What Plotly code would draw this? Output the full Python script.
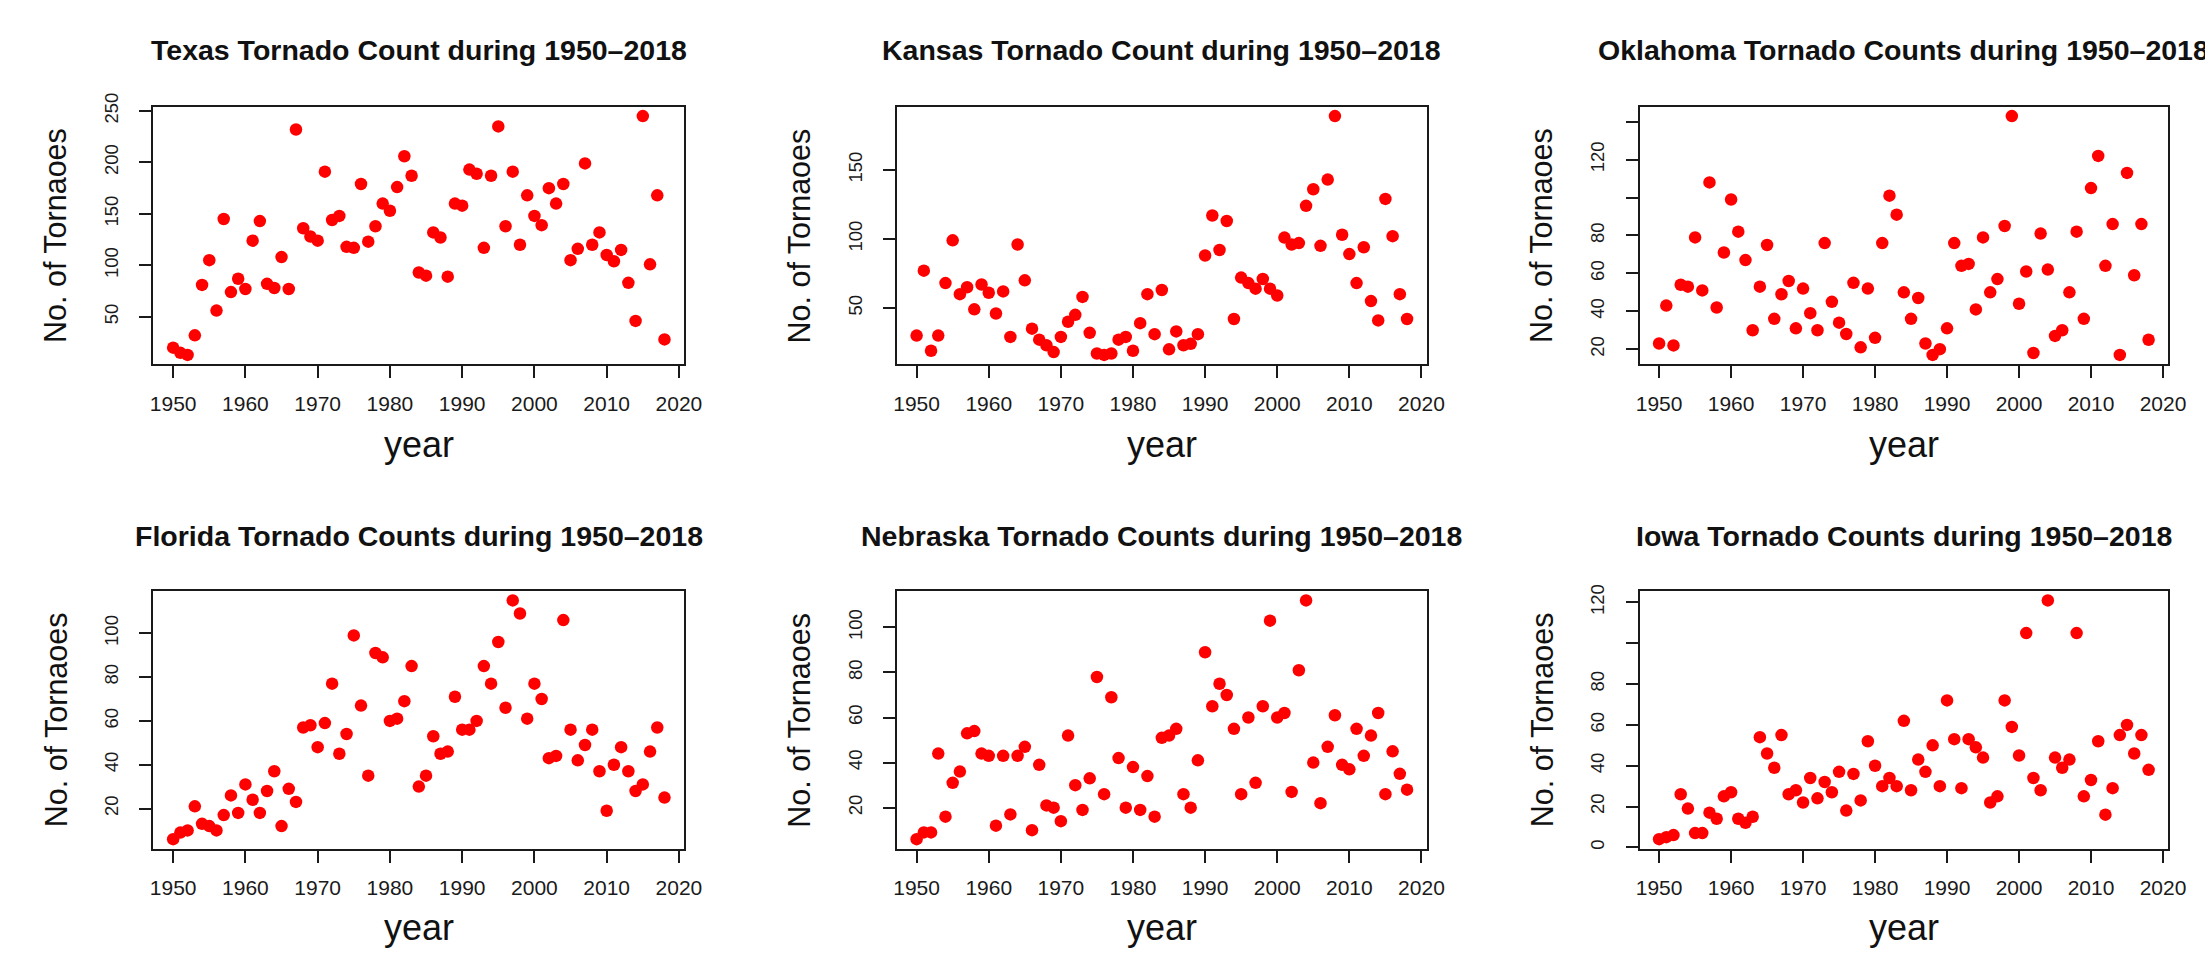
import plotly.graph_objects as go

years = list(range(1950, 2019))

texas = [20, 15, 13, 32, 81, 105, 56, 145, 74, 87, 77, 124, 143, 82, 78, 108, 77, 232, 136, 128,
         124, 191, 144, 148, 118, 117, 179, 123, 138, 160, 153, 176, 206, 187, 93, 90, 132, 127, 89, 160,
         158, 193, 189, 117, 187, 235, 138, 191, 120, 168, 148, 139, 175, 160, 179, 105, 116, 199, 120, 132,
         110, 104, 115, 83, 46, 245, 101, 168, 28]
kansas = [30, 77, 19, 30, 68, 99, 60, 65, 49, 67, 61, 46, 62, 29, 96, 70, 35, 27, 23, 18,
          29, 40, 45, 58, 32, 17, 16, 17, 27, 29, 19, 39, 60, 31, 63, 20, 33, 23, 24, 31,
          88, 117, 92, 113, 42, 72, 68, 64, 71, 64, 59, 101, 96, 97, 124, 136, 95, 143, 189, 103,
          89, 68, 94, 55, 41, 129, 102, 60, 42]
oklahoma = [23, 43, 22, 54, 53, 79, 51, 108, 42, 71, 99, 82, 67, 30, 53, 75, 36, 49, 56, 31,
            52, 39, 30, 76, 45, 34, 28, 55, 21, 52, 26, 76, 101, 91, 50, 36, 47, 23, 17, 20,
            31, 76, 64, 65, 41, 79, 50, 57, 85, 143, 44, 61, 18, 81, 62, 27, 30, 50, 82, 36,
            105, 122, 64, 86, 17, 113, 59, 86, 25]
florida = [6, 9, 10, 21, 13, 12, 10, 17, 26, 18, 31, 24, 18, 28, 37, 12, 29, 23, 57, 58,
           48, 59, 77, 45, 54, 99, 67, 35, 91, 89, 60, 61, 69, 85, 30, 35, 53, 45, 46, 71,
           56, 56, 60, 85, 77, 96, 66, 115, 109, 61, 77, 70, 43, 44, 106, 56, 42, 49, 56, 37,
           19, 40, 48, 37, 28, 31, 46, 57, 25]
nebraska = [6, 9, 9, 44, 16, 31, 36, 53, 54, 44, 43, 12, 43, 17, 43, 47, 10, 39, 21, 20,
            14, 52, 30, 19, 33, 78, 26, 69, 42, 20, 38, 19, 34, 16, 51, 52, 55, 26, 20, 41,
            89, 65, 75, 70, 55, 26, 60, 31, 65, 103, 60, 62, 27, 81, 112, 40, 22, 47, 61, 39,
            37, 55, 43, 52, 62, 26, 45, 35, 28]
iowa = [4, 5, 6, 26, 19, 7, 7, 17, 14, 25, 27, 14, 12, 15, 54, 46, 39, 55, 26, 28,
        22, 34, 24, 32, 27, 37, 18, 36, 23, 52, 40, 30, 34, 30, 62, 28, 43, 37, 50, 30,
        72, 53, 29, 53, 49, 44, 22, 25, 72, 59, 45, 105, 34, 28, 121, 44, 39, 43, 105, 25,
        33, 52, 16, 29, 55, 60, 46, 55, 38]

titles = ["Texas Tornado Count during 1950\u20132018",
          "Kansas Tornado Count during 1950\u20132018",
          "Oklahoma Tornado Counts during 1950\u20132018",
          "Florida Tornado Counts during 1950\u20132018",
          "Nebraska Tornado Counts during 1950\u20132018",
          "Iowa Tornado Counts during 1950\u20132018"]

x_ticks = [1950, 1960, 1970, 1980, 1990, 2000, 2010, 2020]
y_tickvals = [
    [50, 100, 150, 200, 250],
    [50, 100, 150],
    [20, 40, 60, 80, 100, 120, 140],
    [20, 40, 60, 80, 100],
    [20, 40, 60, 80, 100],
    [0, 20, 40, 60, 80, 100, 120],
]
y_ticktext = [
    ["50", "100", "150", "200", "250"],
    ["50", "100", "150"],
    ["20", "40", "60", "80", "", "120", ""],
    ["20", "40", "60", "80", "100"],
    ["20", "40", "60", "80", "100"],
    ["0", "20", "40", "60", "80", "", "120"],
]
x_label = "year"
y_label = "No. of Tornaoes"

series = [texas, kansas, oklahoma, florida, nebraska, iowa]

W, H = 2205, 960
col_px = [(151, 687), (902, 1437), (1652, 2186)]
row_px = [(94, 356), (586, 848)]
title_y_px = [37, 530]
xlab_y_px = [437, 928]

FONT = "Liberation Sans, Arial, Helvetica, sans-serif"

def rng(vals):
    lo, hi = min(vals), max(vals)
    d = (hi - lo) * 0.04
    return [lo - d, hi + d]

fig = go.Figure()
annotations = []
xr = rng(years)
for i, vals in enumerate(series):
    r, c = divmod(i, 3)
    n = "" if i == 0 else str(i + 1)
    fig.add_trace(go.Scatter(
        x=years, y=vals, mode="markers",
        marker=dict(color="#FF0000", size=12.5, line=dict(width=0)),
        xaxis="x" + n, yaxis="y" + n, showlegend=False,
        hoverinfo="x+y"))
    x0, x1 = col_px[c]
    y0, y1 = row_px[r]
    common = dict(showgrid=False, zeroline=False, showline=True, mirror=True,
                  linecolor="#1a1a1a", linewidth=2, ticks="outside", ticklen=12,
                  tickwidth=1.6, tickcolor="#1a1a1a")
    fig.layout["xaxis" + n] = dict(
        domain=[x0 / W, x1 / W], anchor="y" + n, range=xr,
        tickvals=x_ticks, ticktext=[str(t) for t in x_ticks],
        tickfont=dict(family=FONT, size=21, color="#1a1a1a"),
        ticklabelstandoff=7, **common)
    fig.layout["yaxis" + n] = dict(
        domain=[1 - y1 / H, 1 - y0 / H], anchor="x" + n, range=rng(vals),
        tickvals=y_tickvals[i], ticktext=y_ticktext[i], tickangle=-90,
        tickfont=dict(family=FONT, size=18.5, color="#1a1a1a"),
        ticklabelstandoff=14, **common)
    cx = (x0 + x1) / 2 / W
    annotations.append(dict(
        text="<b>" + titles[i] + "</b>", x=cx, y=1 - title_y_px[r] / H,
        xref="paper", yref="paper", xanchor="center", yanchor="middle",
        showarrow=False, font=dict(family=FONT, size=28.5, color="#111111")))
    annotations.append(dict(
        text=x_label, x=cx, y=1 - xlab_y_px[r] / H,
        xref="paper", yref="paper", xanchor="center", yanchor="middle",
        showarrow=False, font=dict(family=FONT, size=36, color="#111111")))
    annotations.append(dict(
        text=y_label, x=(x0 - 99) / W, y=1 - (y0 + y1) / 2 / H,
        xref="paper", yref="paper", xanchor="center", yanchor="middle",
        textangle=-90, showarrow=False,
        font=dict(family=FONT, size=30.5, color="#111111")))

fig.update_layout(
    width=W, height=H, margin=dict(l=0, r=0, t=0, b=0),
    paper_bgcolor="white", plot_bgcolor="white",
    annotations=annotations)

fig.write_html("out.html", config={"displayModeBar": False})
